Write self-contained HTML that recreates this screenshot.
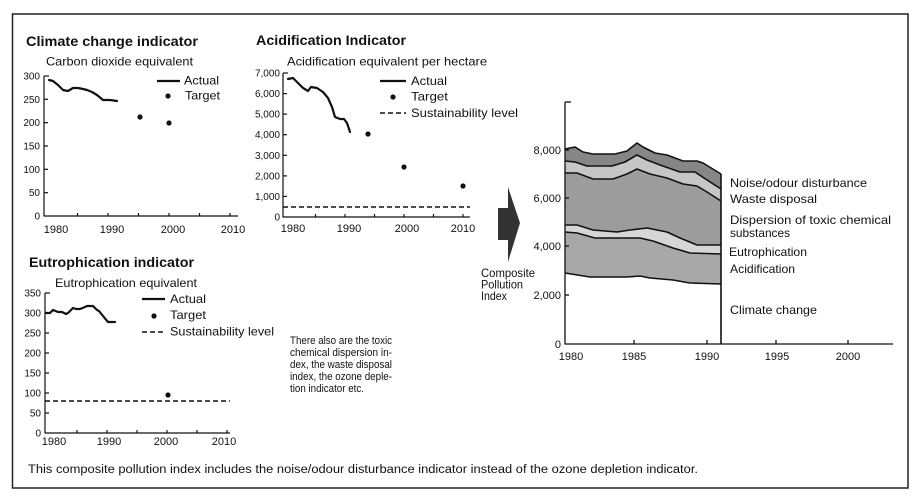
<!DOCTYPE html>
<html>
<head>
<meta charset="utf-8">
<style>
  html,body{margin:0;padding:0;background:#fff;}
  svg{display:block;}
  text{font-family:"Liberation Sans",Arial,sans-serif;fill:#111;}
  .t{font-weight:bold;font-size:14px;}
  .s{font-size:12px;}
  .y{font-size:10px;text-anchor:end;}
  .x{font-size:11px;text-anchor:middle;}
  .l{font-size:12px;}
  .n{font-size:11px;}
</style>
</head>
<body>
<svg width="920" height="503" viewBox="0 0 920 503" xmlns="http://www.w3.org/2000/svg">
  <rect x="0" y="0" width="920" height="503" fill="#fff"/>
  <!-- frame -->
  <rect x="12.5" y="14" width="895.5" height="474" fill="none" stroke="#222" stroke-width="1.5"/>

  <!-- ===== Climate change indicator ===== -->
  <text class="t" x="26" y="46" textLength="172" lengthAdjust="spacingAndGlyphs">Climate change indicator</text>
  <text class="s" x="46" y="65.5" textLength="147" lengthAdjust="spacingAndGlyphs">Carbon dioxide equivalent</text>
  <g stroke="#111" stroke-width="1.2" fill="none">
    <line x1="44" y1="76" x2="44" y2="216.5"/>
    <line x1="44" y1="216" x2="238" y2="216"/>
    <line x1="44" y1="76" x2="49" y2="76"/>
    <line x1="44" y1="99.3" x2="48" y2="99.3"/>
    <line x1="44" y1="122.7" x2="48" y2="122.7"/>
    <line x1="44" y1="146" x2="48" y2="146"/>
    <line x1="44" y1="169.3" x2="48" y2="169.3"/>
    <line x1="44" y1="192.7" x2="48" y2="192.7"/>
    <line x1="77.5" y1="216" x2="77.5" y2="213"/>
    <line x1="108" y1="216" x2="108" y2="213"/>
    <line x1="138.5" y1="216" x2="138.5" y2="213"/>
    <line x1="169" y1="216" x2="169" y2="213"/>
    <line x1="199.5" y1="216" x2="199.5" y2="213"/>
    <line x1="230" y1="216" x2="230" y2="213"/>
  </g>
  <text class="y" x="40" y="79.5">300</text>
  <text class="y" x="40" y="102.8">250</text>
  <text class="y" x="40" y="126.2">200</text>
  <text class="y" x="40" y="149.5">150</text>
  <text class="y" x="40" y="172.8">100</text>
  <text class="y" x="40" y="196.2">50</text>
  <text class="y" x="40" y="219.5">0</text>
  <text class="x" x="56" y="233">1980</text>
  <text class="x" x="112" y="233">1990</text>
  <text class="x" x="173" y="233">2000</text>
  <text class="x" x="233" y="233">2010</text>
  <polyline fill="none" stroke="#111" stroke-width="2.2" stroke-linejoin="round" stroke-linecap="round"
    points="49,80 53,81 58,85 63,90 68,91 73,88 78,88 83,89 87,90 92,92 97,95 103,100 110,100 117,101"/>
  <circle cx="140" cy="117" r="2.6" fill="#111"/>
  <circle cx="169" cy="123" r="2.6" fill="#111"/>
  <line x1="157" y1="81" x2="180" y2="81" stroke="#111" stroke-width="2.2"/>
  <text class="l" x="184" y="84.5" textLength="35" lengthAdjust="spacingAndGlyphs">Actual</text>
  <circle cx="168" cy="96" r="2.6" fill="#111"/>
  <text class="l" x="185" y="99.5" textLength="35" lengthAdjust="spacingAndGlyphs">Target</text>

  <!-- ===== Acidification indicator ===== -->
  <text class="t" x="256" y="45" textLength="150" lengthAdjust="spacingAndGlyphs">Acidification Indicator</text>
  <text class="s" x="287" y="65.5" textLength="200" lengthAdjust="spacingAndGlyphs">Acidification equivalent per hectare</text>
  <g stroke="#111" stroke-width="1.2" fill="none">
    <line x1="283" y1="73" x2="283" y2="217.5"/>
    <line x1="283" y1="217" x2="470" y2="217"/>
    <line x1="283" y1="73" x2="288" y2="73"/>
    <line x1="283" y1="93.6" x2="287" y2="93.6"/>
    <line x1="283" y1="114.1" x2="287" y2="114.1"/>
    <line x1="283" y1="134.7" x2="287" y2="134.7"/>
    <line x1="283" y1="155.3" x2="287" y2="155.3"/>
    <line x1="283" y1="175.9" x2="287" y2="175.9"/>
    <line x1="283" y1="196.4" x2="287" y2="196.4"/>
    <line x1="315.5" y1="217" x2="315.5" y2="214"/>
    <line x1="345" y1="217" x2="345" y2="214"/>
    <line x1="374.5" y1="217" x2="374.5" y2="214"/>
    <line x1="404" y1="217" x2="404" y2="214"/>
    <line x1="433.5" y1="217" x2="433.5" y2="214"/>
    <line x1="463" y1="217" x2="463" y2="214"/>
  </g>
  <text class="y" x="280" y="76.5">7,000</text>
  <text class="y" x="280" y="97.1">6,000</text>
  <text class="y" x="280" y="117.6">5,000</text>
  <text class="y" x="280" y="138.2">4,000</text>
  <text class="y" x="280" y="158.8">3,000</text>
  <text class="y" x="280" y="179.4">2,000</text>
  <text class="y" x="280" y="199.9">1,000</text>
  <text class="y" x="280" y="220.5">0</text>
  <text class="x" x="293" y="232">1980</text>
  <text class="x" x="349" y="232">1990</text>
  <text class="x" x="407" y="232">2000</text>
  <text class="x" x="463" y="232">2010</text>
  <polyline fill="none" stroke="#111" stroke-width="2.2" stroke-linejoin="round" stroke-linecap="round"
    points="288,79 293,78 298,83 303,88 308,91 311,87 317,88 323,92 328,98 332,107 335,117 340,119 344,119 347,123 350,132"/>
  <line x1="283" y1="207" x2="470" y2="207" stroke="#111" stroke-width="1.6" stroke-dasharray="5,3"/>
  <circle cx="368" cy="134" r="2.6" fill="#111"/>
  <circle cx="404" cy="167" r="2.6" fill="#111"/>
  <circle cx="463" cy="186" r="2.6" fill="#111"/>
  <line x1="380" y1="81" x2="406" y2="81" stroke="#111" stroke-width="2.2"/>
  <text class="l" x="411" y="85" textLength="36" lengthAdjust="spacingAndGlyphs">Actual</text>
  <circle cx="393" cy="97" r="2.6" fill="#111"/>
  <text class="l" x="411" y="100.5" textLength="37" lengthAdjust="spacingAndGlyphs">Target</text>
  <line x1="380" y1="113" x2="406" y2="113" stroke="#111" stroke-width="1.6" stroke-dasharray="5,3"/>
  <text class="l" x="411" y="117" textLength="107" lengthAdjust="spacingAndGlyphs">Sustainability level</text>

  <!-- ===== Eutrophication indicator ===== -->
  <text class="t" x="29" y="267" textLength="165" lengthAdjust="spacingAndGlyphs">Eutrophication indicator</text>
  <text class="s" x="55" y="287" textLength="142" lengthAdjust="spacingAndGlyphs">Eutrophication equivalent</text>
  <g stroke="#111" stroke-width="1.2" fill="none">
    <line x1="45" y1="293" x2="45" y2="433.5"/>
    <line x1="45" y1="433" x2="230" y2="433"/>
    <line x1="45" y1="293" x2="50" y2="293"/>
    <line x1="45" y1="313" x2="49" y2="313"/>
    <line x1="45" y1="333" x2="49" y2="333"/>
    <line x1="45" y1="353" x2="49" y2="353"/>
    <line x1="45" y1="373" x2="49" y2="373"/>
    <line x1="45" y1="393" x2="49" y2="393"/>
    <line x1="45" y1="413" x2="49" y2="413"/>
    <line x1="77" y1="433" x2="77" y2="430"/>
    <line x1="107" y1="433" x2="107" y2="430"/>
    <line x1="137" y1="433" x2="137" y2="430"/>
    <line x1="167" y1="433" x2="167" y2="430"/>
    <line x1="197" y1="433" x2="197" y2="430"/>
    <line x1="227" y1="433" x2="227" y2="430"/>
  </g>
  <text class="y" x="41" y="296.5">350</text>
  <text class="y" x="41" y="316.5">300</text>
  <text class="y" x="41" y="336.5">250</text>
  <text class="y" x="41" y="356.5">200</text>
  <text class="y" x="41" y="376.5">150</text>
  <text class="y" x="41" y="396.5">100</text>
  <text class="y" x="41" y="416.5">50</text>
  <text class="y" x="41" y="436.5">0</text>
  <text class="x" x="54" y="445">1980</text>
  <text class="x" x="109" y="445">1990</text>
  <text class="x" x="166" y="445">2000</text>
  <text class="x" x="224" y="445">2010</text>
  <polyline fill="none" stroke="#111" stroke-width="2.2" stroke-linejoin="round" stroke-linecap="round"
    points="46,313 50,313 53,310 58,312 62,312 66,314 68,313 73,308 76,309 80,309 85,307 87,306 93,306 97,310 99,311 103,316 108,322 115,322"/>
  <line x1="45" y1="401" x2="230" y2="401" stroke="#111" stroke-width="1.6" stroke-dasharray="5,3"/>
  <circle cx="168" cy="395" r="2.6" fill="#111"/>
  <line x1="142" y1="299" x2="165" y2="299" stroke="#111" stroke-width="2.2"/>
  <text class="l" x="170" y="303" textLength="36" lengthAdjust="spacingAndGlyphs">Actual</text>
  <circle cx="154" cy="316" r="2.6" fill="#111"/>
  <text class="l" x="170" y="319" textLength="36" lengthAdjust="spacingAndGlyphs">Target</text>
  <line x1="142" y1="332" x2="165" y2="332" stroke="#111" stroke-width="1.6" stroke-dasharray="5,3"/>
  <text class="l" x="170" y="335.5" textLength="104" lengthAdjust="spacingAndGlyphs">Sustainability level</text>

  <!-- ===== Note ===== -->
  <text class="n" x="290" y="344" textLength="102" lengthAdjust="spacingAndGlyphs">There also are the toxic</text>
  <text class="n" x="290" y="356" textLength="102" lengthAdjust="spacingAndGlyphs">chemical dispersion in-</text>
  <text class="n" x="290" y="368" textLength="102" lengthAdjust="spacingAndGlyphs">dex, the waste disposal</text>
  <text class="n" x="290" y="380" textLength="102" lengthAdjust="spacingAndGlyphs">index, the ozone deple-</text>
  <text class="n" x="290" y="392" textLength="74" lengthAdjust="spacingAndGlyphs">tion indicator etc.</text>

  <!-- ===== Arrow ===== -->
  <polygon points="498,208 508,208 508,187 520,223 508,262 508,240 498,240" fill="#333"/>
  <text class="l" x="481" y="277" textLength="54" lengthAdjust="spacingAndGlyphs">Composite</text>
  <text class="l" x="481" y="288.5" textLength="42" lengthAdjust="spacingAndGlyphs">Pollution</text>
  <text class="l" x="481" y="300" textLength="26" lengthAdjust="spacingAndGlyphs">Index</text>

  <!-- ===== Composite chart ===== -->
  <polygon fill="#868686" points="565,149 575,147 583,152 593,154 615,154 627,151 637,143 643,147 655,153 667,155 683,161 697,161 703,163 721,174 721,189 707,180 695,172 680,172 660,165 647,160 637,155 625,162 612,166 587,166 575,162 565,161"/>
  <polygon fill="#c6c6c6" points="565,161 575,162 587,166 612,166 625,162 637,155 647,160 660,165 680,172 695,172 707,180 721,189 721,201 707,192 697,186 683,184 667,178 650,174 637,169 627,174 613,179 593,179 577,173 565,173"/>
  <polygon fill="#9c9c9c" points="565,173 577,173 593,179 613,179 627,174 637,169 650,174 667,178 683,184 697,186 707,192 721,201 721,245 697,245 680,238 667,232 647,228 630,230 617,232 593,230 577,225 565,225"/>
  <polygon fill="#d6d6d6" points="565,225 577,225 593,230 617,232 630,230 647,228 667,232 680,238 697,245 721,245 721,254 690,253 673,248 653,241 640,238 617,238 595,238 577,233 565,232"/>
  <polygon fill="#a8a8a8" points="565,232 577,233 595,238 617,238 640,238 653,241 673,248 690,253 721,254 721,284 690,283 673,280 650,278 640,276 627,277 590,277 565,273"/>
  <g fill="none" stroke="#111" stroke-width="1.6" stroke-linejoin="round">
    <polyline points="565,149 575,147 583,152 593,154 615,154 627,151 637,143 643,147 655,153 667,155 683,161 697,161 703,163 721,174"/>
    <polyline points="565,161 575,162 587,166 612,166 625,162 637,155 647,160 660,165 680,172 695,172 707,180 721,189"/>
    <polyline points="565,173 577,173 593,179 613,179 627,174 637,169 650,174 667,178 683,184 697,186 707,192 721,201"/>
    <polyline points="565,225 577,225 593,230 617,232 630,230 647,228 667,232 680,238 697,245 721,245"/>
    <polyline points="565,232 577,233 595,238 617,238 640,238 653,241 673,248 690,253 721,254"/>
    <polyline points="565,273 590,277 627,277 640,276 650,278 673,280 690,283 721,284"/>
    <line x1="721" y1="174" x2="721" y2="344"/>
  </g>
  <g stroke="#111" stroke-width="1.3" fill="none">
    <line x1="565" y1="102" x2="565" y2="344.5"/>
    <line x1="565" y1="102" x2="571" y2="102"/>
    <line x1="565" y1="344" x2="893" y2="344"/>
    <line x1="565" y1="150" x2="569" y2="150"/>
    <line x1="565" y1="198" x2="569" y2="198"/>
    <line x1="565" y1="246" x2="569" y2="246"/>
    <line x1="565" y1="295" x2="569" y2="295"/>
    <line x1="634" y1="344" x2="634" y2="340"/>
    <line x1="707" y1="344" x2="707" y2="340"/>
    <line x1="776" y1="344" x2="776" y2="340"/>
    <line x1="848" y1="344" x2="848" y2="340"/>
  </g>
  <text class="y" x="561" y="154" style="font-size:11px">8,000</text>
  <text class="y" x="561" y="202" style="font-size:11px">6,000</text>
  <text class="y" x="561" y="250" style="font-size:11px">4,000</text>
  <text class="y" x="561" y="299" style="font-size:11px">2,000</text>
  <text class="y" x="561" y="348" style="font-size:11px">0</text>
  <text class="x" x="571" y="360">1980</text>
  <text class="x" x="634" y="360">1985</text>
  <text class="x" x="707" y="360">1990</text>
  <text class="x" x="777" y="360">1995</text>
  <text class="x" x="848" y="360">2000</text>
  <text class="l" x="730" y="187" textLength="137" lengthAdjust="spacingAndGlyphs">Noise/odour disturbance</text>
  <text class="l" x="730" y="203" textLength="87" lengthAdjust="spacingAndGlyphs">Waste disposal</text>
  <text class="l" x="730" y="224" textLength="161" lengthAdjust="spacingAndGlyphs">Dispersion of toxic chemical</text>
  <text class="l" x="730" y="237" textLength="60" lengthAdjust="spacingAndGlyphs">substances</text>
  <text class="l" x="729" y="256" textLength="78" lengthAdjust="spacingAndGlyphs">Eutrophication</text>
  <text class="l" x="730" y="273" textLength="65" lengthAdjust="spacingAndGlyphs">Acidification</text>
  <text class="l" x="730" y="314" textLength="87" lengthAdjust="spacingAndGlyphs">Climate change</text>

  <text class="s" x="28" y="473" style="font-size:11.5px" textLength="670" lengthAdjust="spacingAndGlyphs">This composite pollution index includes the noise/odour disturbance indicator instead of the ozone depletion indicator.</text>
</svg>
</body>
</html>
